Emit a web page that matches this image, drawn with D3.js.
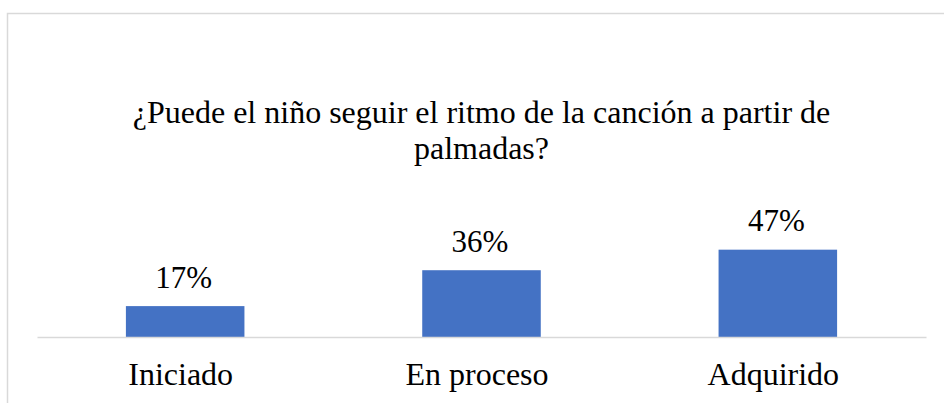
<!DOCTYPE html>
<html>
<head>
<meta charset="utf-8">
<script src="https://d3js.org/d3.v7.min.js"></script>
</head>
<body style="margin:0">
<svg id="chart" width="944" height="403"></svg>
<script>
// data (shares of 36 children, rounded labels)
var categories = ["Iniciado", "En proceso", "Adquirido"];
var values = [16.7, 36.1, 47.2];
var titleLines = ["¿Puede el niño seguir el ritmo de la canción a partir de", "palmadas?"];

var FONT = "'Liberation Serif', 'Times New Roman', Tinos";
var svg = d3.select("#chart");

// chart area border (runs off right/bottom edge)
svg.append("rect")
  .attr("x", 7.5).attr("y", 13.5)
  .attr("width", 960).attr("height", 420)
  .attr("fill", "none")
  .attr("stroke", "#d9d9d9")
  .attr("stroke-width", 1.5);

// title
svg.append("g").selectAll("text")
  .data(titleLines)
  .enter().append("text")
  .attr("x", 481.5)
  .attr("y", function(d, i) { return 122.5 + i * 36; })
  .attr("text-anchor", "middle")
  .style("font-family", FONT, "important")
  .style("font-size", "32px")
  .style("fill", "#000")
  .text(function(d) { return d; });

var plot = {left: 37, right: 926, base: 337};

var x = d3.scaleBand()
  .domain(categories)
  .range([plot.left, plot.right])
  .paddingInner(0.6)
  .paddingOuter(0.3);

var y = d3.scaleLinear()
  .domain([0, 50])
  .range([plot.base, plot.base - 92.5]);

// bars
svg.append("g").selectAll("rect")
  .data(values)
  .enter().append("rect")
  .attr("x", function(d, i) { return x(categories[i]); })
  .attr("y", function(d) { return y(d); })
  .attr("width", x.bandwidth())
  .attr("height", function(d) { return y(0) - y(d); })
  .attr("fill", "#4472c4");

// data labels
svg.append("g").selectAll("text")
  .data(values)
  .enter().append("text")
  .attr("x", function(d, i) { return x(categories[i]) + x.bandwidth() / 2 - 1.5; })
  .attr("y", function(d) { return y(d) - 18.5; })
  .attr("text-anchor", "middle")
  .style("font-family", FONT, "important")
  .style("font-size", "31px")
  .style("fill", "#000")
  .text(function(d) { return Math.round(d) + "%"; });

// category axis
var xAxis = svg.append("g")
  .attr("transform", "translate(0," + plot.base + ")")
  .call(d3.axisBottom(x).tickSize(0).tickSizeOuter(0));
xAxis.select(".domain")
  .attr("stroke", "#d9d9d9")
  .attr("stroke-width", 1.5);
xAxis.selectAll("text")
  .attr("x", -4.5)
  .attr("y", 48)
  .attr("dy", 0)
  .style("fill", "#000")
  .style("font-family", FONT, "important")
  .style("font-size", "32px");
</script>
</body>
</html>
